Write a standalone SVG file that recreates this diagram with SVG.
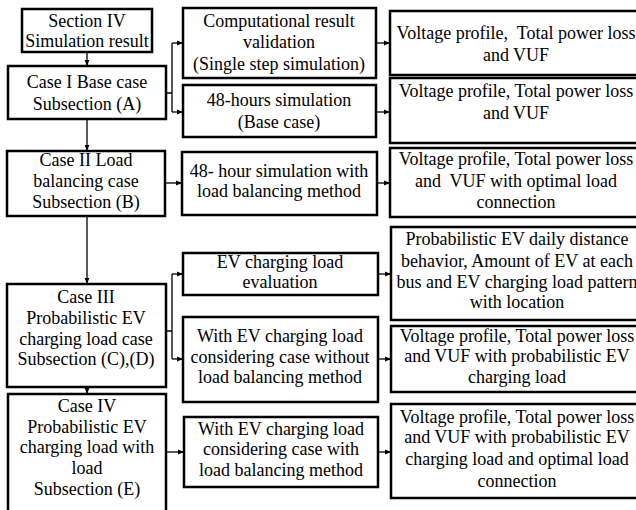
<svg xmlns="http://www.w3.org/2000/svg" width="636" height="510" viewBox="0 0 636 510">
  <style>
    .box { fill: #fff; stroke: #000; stroke-width: 2.5; }
    .lbl { font-family: "Liberation Serif", "Times New Roman", serif; font-size: 18px; fill: #000; text-anchor: middle; }
    .wire { fill: none; stroke: #000; stroke-width: 1.3; }
  </style>
  <defs>
    <marker id="arr" viewBox="0 0 6 6" refX="6" refY="3" markerWidth="6" markerHeight="6" markerUnits="userSpaceOnUse" orient="auto">
      <path d="M0,0.6 L6,3 L0,5.4 Z" fill="#000"/>
    </marker>
  </defs>
  <rect width="636" height="510" fill="#fff"/>

  <g id="connectors">
    <!-- left column, top to bottom -->
    <path class="wire" marker-end="url(#arr)" d="M87,52 V66"/>
    <path class="wire" marker-end="url(#arr)" d="M87,119 V151"/>
    <path class="wire" marker-end="url(#arr)" d="M87,216 V284"/>
    <path class="wire" marker-end="url(#arr)" d="M87,387 V394"/>
    <!-- Case I fork -->
    <path class="wire" d="M166,93 H172 M172,43 V112"/>
    <path class="wire" marker-end="url(#arr)" d="M172,43 H183"/>
    <path class="wire" marker-end="url(#arr)" d="M172,112 H183"/>
    <!-- Case II -->
    <path class="wire" marker-end="url(#arr)" d="M165,183 H182"/>
    <!-- Case III fork -->
    <path class="wire" d="M166,331 H172 M172,274 V359"/>
    <path class="wire" marker-end="url(#arr)" d="M172,274 H183"/>
    <path class="wire" marker-end="url(#arr)" d="M172,359 H183"/>
    <!-- Case IV -->
    <path class="wire" marker-end="url(#arr)" d="M166,452 H184"/>
    <!-- middle column to results -->
    <path class="wire" marker-end="url(#arr)" d="M376,43 H390"/>
    <path class="wire" marker-end="url(#arr)" d="M376,112 H390"/>
    <path class="wire" marker-end="url(#arr)" d="M377,183 H390"/>
    <path class="wire" marker-end="url(#arr)" d="M378,274 H391"/>
    <path class="wire" marker-end="url(#arr)" d="M378,359 H391"/>
    <path class="wire" marker-end="url(#arr)" d="M378,452 H391"/>
  </g>

  <g id="section4">
    <rect class="box" x="22" y="9" width="130" height="43"/>
    <text class="lbl" x="87" y="27">Section IV</text>
    <text class="lbl" x="87" y="47">Simulation result</text>
  </g>
  <g id="case1">
    <rect class="box" x="8" y="66" width="158" height="53"/>
    <text class="lbl" x="87" y="88">Case I Base case</text>
    <text class="lbl" x="87" y="110">Subsection (A)</text>
  </g>
  <g id="case2">
    <rect class="box" x="7" y="151" width="158" height="65"/>
    <text class="lbl" x="86" y="166">Case II Load</text>
    <text class="lbl" x="86" y="187">balancing case</text>
    <text class="lbl" x="86" y="208">Subsection (B)</text>
  </g>
  <g id="case3">
    <rect class="box" x="7" y="284" width="159" height="103"/>
    <text class="lbl" x="86" y="303">Case III</text>
    <text class="lbl" x="86" y="324">Probabilistic EV</text>
    <text class="lbl" x="86" y="345">charging load case</text>
    <text class="lbl" x="86" y="365">Subsection (C),(D)</text>
  </g>
  <g id="case4">
    <rect class="box" x="8" y="394" width="158" height="120"/>
    <text class="lbl" x="87" y="412">Case IV</text>
    <text class="lbl" x="87" y="433">Probabilistic EV</text>
    <text class="lbl" x="87" y="453">charging load with</text>
    <text class="lbl" x="87" y="474">load</text>
    <text class="lbl" x="87" y="495">Subsection (E)</text>
  </g>

  <g id="validation">
    <rect class="box" x="183" y="8" width="193" height="70"/>
    <text class="lbl" x="279" y="27">Computational result</text>
    <text class="lbl" x="279" y="48">validation</text>
    <text class="lbl" x="279" y="70">(Single step simulation)</text>
  </g>
  <g id="sim48base">
    <rect class="box" x="183" y="85" width="193" height="52"/>
    <text class="lbl" x="279" y="106">48-hours simulation</text>
    <text class="lbl" x="279" y="128">(Base case)</text>
  </g>
  <g id="sim48balance">
    <rect class="box" x="182" y="152" width="195" height="63"/>
    <text class="lbl" x="279" y="177">48- hour simulation with</text>
    <text class="lbl" x="279" y="197">load balancing method</text>
  </g>
  <g id="evload">
    <rect class="box" x="183" y="253" width="195" height="42"/>
    <text class="lbl" x="280" y="268">EV charging load</text>
    <text class="lbl" x="280" y="288">evaluation</text>
  </g>
  <g id="evnobalance">
    <rect class="box" x="183" y="317" width="195" height="85"/>
    <text class="lbl" x="280" y="342">With EV charging load</text>
    <text class="lbl" x="280" y="363">considering case without</text>
    <text class="lbl" x="280" y="383">load balancing method</text>
  </g>
  <g id="evbalance">
    <rect class="box" x="184" y="417" width="194" height="70"/>
    <text class="lbl" x="281" y="435">With EV charging load</text>
    <text class="lbl" x="281" y="455">considering case with</text>
    <text class="lbl" x="281" y="476">load balancing method</text>
  </g>

  <g id="out1">
    <rect class="box" x="390" y="11" width="260" height="64"/>
    <text class="lbl" x="516" y="39" xml:space="preserve">Voltage profile,  Total power loss</text>
    <text class="lbl" x="516" y="61">and VUF</text>
  </g>
  <g id="out2">
    <rect class="box" x="390" y="78" width="260" height="65"/>
    <text class="lbl" x="516" y="97">Voltage profile, Total power loss</text>
    <text class="lbl" x="516" y="119">and VUF</text>
  </g>
  <g id="out3">
    <rect class="box" x="390" y="148" width="260" height="69"/>
    <text class="lbl" x="516" y="165">Voltage profile, Total power loss</text>
    <text class="lbl" x="516" y="187" xml:space="preserve">and  VUF with optimal load</text>
    <text class="lbl" x="516" y="208">connection</text>
  </g>
  <g id="out4">
    <rect class="box" x="391" y="227" width="260" height="93"/>
    <text class="lbl" x="517" y="245">Probabilistic EV daily distance</text>
    <text class="lbl" x="517" y="267">behavior, Amount of EV at each</text>
    <text class="lbl" x="517" y="288">bus and EV charging load pattern</text>
    <text class="lbl" x="517" y="308">with location</text>
  </g>
  <g id="out5">
    <rect class="box" x="391" y="326" width="260" height="66"/>
    <text class="lbl" x="517" y="342">Voltage profile, Total power loss</text>
    <text class="lbl" x="517" y="362">and VUF with probabilistic EV</text>
    <text class="lbl" x="517" y="383">charging load</text>
  </g>
  <g id="out6">
    <rect class="box" x="391" y="404" width="260" height="94"/>
    <text class="lbl" x="517" y="423">Voltage profile, Total power loss</text>
    <text class="lbl" x="517" y="443">and VUF with probabilistic EV</text>
    <text class="lbl" x="517" y="465">charging load and optimal load</text>
    <text class="lbl" x="517" y="487">connection</text>
  </g>
</svg>
